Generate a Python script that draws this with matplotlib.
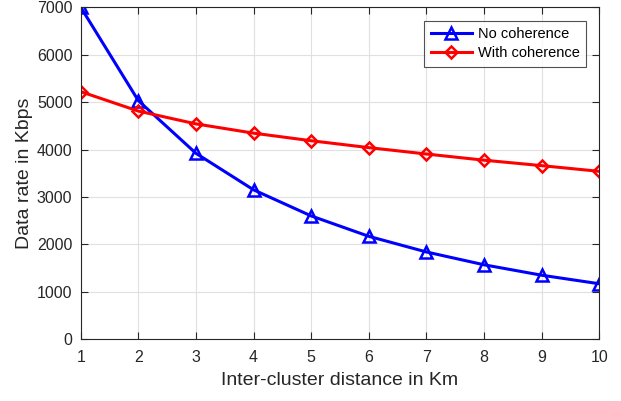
import matplotlib
matplotlib.use("Agg")
import matplotlib.pyplot as plt

distance_km = [1, 2, 3, 4, 5, 6, 7, 8, 9, 10]
no_coherence = [7000, 5030, 3920, 3150, 2600, 2170, 1840, 1570, 1350, 1170]
with_coherence = [5220, 4810, 4540, 4345, 4185, 4040, 3905, 3775, 3660, 3540]
x_ticks = [1, 2, 3, 4, 5, 6, 7, 8, 9, 10]
y_ticks = [0, 1000, 2000, 3000, 4000, 5000, 6000, 7000]

plt.rcParams['font.family'] = ['Liberation Sans', 'DejaVu Sans']

fig = plt.figure(figsize=(6.21, 4.01), dpi=100)
ax = fig.add_axes([0.130, 0.154, 0.835, 0.828])

ax.plot(distance_km, no_coherence, color='#0000ff', lw=2.2, marker='^',
        markersize=8, markeredgewidth=1.8, fillstyle='none', label='No coherence')
ax.plot(distance_km, with_coherence, color='#ff0000', lw=2.2, marker='D',
        markersize=6.5, markeredgewidth=1.8, fillstyle='none', label='With coherence')

ax.set_xlim(1, 10)
ax.set_ylim(0, 7000)
ax.set_xticks(x_ticks)
ax.set_yticks(y_ticks)
ax.grid(True, color='#e0e0e0', lw=0.8)
ax.set_axisbelow(True)
ax.tick_params(direction='in', top=True, right=True, length=5, width=0.8,
               colors='#262626', labelsize=11.5)
ax.tick_params(axis='x', pad=8)
ax.tick_params(axis='y', pad=6)
for s in ax.spines.values():
    s.set_color('#262626')
    s.set_linewidth(0.8)

ax.set_xlabel('Inter-cluster distance in Km', fontsize=14, color='#262626', labelpad=5)
ax.set_ylabel('Data rate in Kbps', fontsize=14, color='#262626', labelpad=3)

leg = ax.legend(loc='upper right', bbox_to_anchor=(0.9744, 0.9596), fontsize=10.5,
                frameon=True, fancybox=False, edgecolor='#262626', handlelength=2.8,
                borderpad=0.45, labelspacing=0.35, handletextpad=0.4, borderaxespad=0)
leg.get_frame().set_linewidth(0.8)

fig.savefig('out.png', dpi=100)
